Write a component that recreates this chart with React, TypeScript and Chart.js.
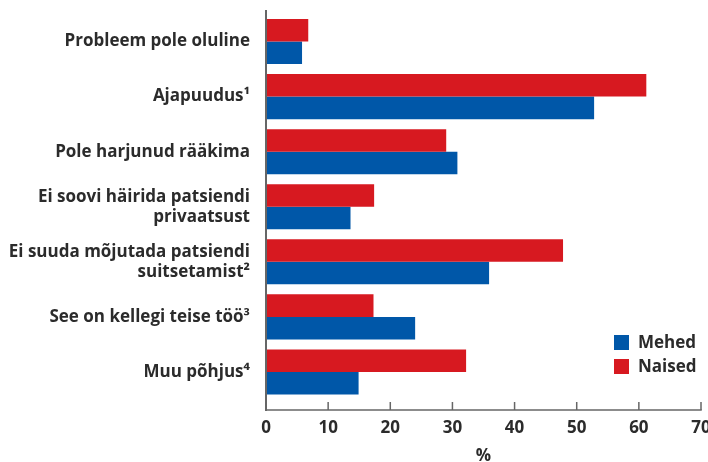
import React, { useEffect, useRef } from "react";
import { Chart, registerables } from "chart.js";

Chart.register(...registerables);

const categories: (string | string[])[] = [
  "Probleem pole oluline",
  "Ajapuudus¹",
  "Pole harjunud rääkima",
  ["Ei soovi häirida patsiendi", "privaatsust"],
  ["Ei suuda mõjutada patsiendi", "suitsetamist²"],
  "See on kellegi teise töö³",
  "Muu põhjus⁴",
];
const naised = [6.8, 61.2, 29.0, 17.4, 47.8, 17.3, 32.2];
const mehed = [5.8, 52.8, 30.8, 13.6, 35.9, 24.0, 14.9];
const xTicks = [0, 10, 20, 30, 40, 50, 60, 70];

const RED = "#D71920";
const BLUE = "#0057A8";
const TEXT = "#2b2b2b";
const AXIS = "#666666";
const FONT = "'Open Sans'";

const zeroPad = (s: any) => {
  s.paddingTop = 0;
  s.paddingBottom = 0;
  s.paddingLeft = 0;
  s.paddingRight = 0;
};

const decorPlugin = {
  id: "decor",
  afterDraw(chart: any) {
    const ctx = chart.ctx;
    const area = chart.chartArea;
    const xs = chart.scales.x;
    const axisY = area.bottom + 10.5;
    ctx.save();
    ctx.strokeStyle = AXIS;
    ctx.lineWidth = 2;
    ctx.beginPath();
    ctx.moveTo(area.left, area.top - 4);
    ctx.lineTo(area.left, axisY + 1);
    ctx.stroke();
    ctx.lineWidth = 1.5;
    ctx.beginPath();
    ctx.moveTo(area.left - 1, axisY);
    ctx.lineTo(xs.getPixelForValue(70) + 0.75, axisY);
    ctx.stroke();
    xTicks.forEach((v) => {
      const px = xs.getPixelForValue(v);
      ctx.beginPath();
      ctx.moveTo(px, axisY);
      ctx.lineTo(px, axisY - 8);
      ctx.stroke();
    });
    const ds = chart.data.datasets.slice().reverse();
    ctx.font = `bold 17px ${FONT}`;
    ctx.textBaseline = "middle";
    ctx.textAlign = "left";
    ds.forEach((d: any, i: number) => {
      const sx = area.right - 87;
      const sy = area.bottom - 64.5 + i * 24;
      ctx.fillStyle = d.backgroundColor;
      ctx.fillRect(sx, sy, 15, 15);
      ctx.fillStyle = TEXT;
      ctx.fillText(d.label, sx + 24, sy + 8);
    });
    ctx.restore();
  },
};

export default function App() {
  const ref = useRef<HTMLCanvasElement>(null);
  useEffect(() => {
    if (!ref.current) return;
    const chart = new Chart(ref.current, {
      type: "bar",
      data: {
        labels: categories as any,
        datasets: [
          { label: "Naised", data: naised, backgroundColor: RED, categoryPercentage: 0.818, barPercentage: 1 },
          { label: "Mehed", data: mehed, backgroundColor: BLUE, categoryPercentage: 0.818, barPercentage: 1 },
        ],
      },
      options: {
        indexAxis: "y",
        animation: false,
        responsive: true,
        maintainAspectRatio: false,
        layout: { padding: { top: 14, right: 7, left: 0, bottom: 0 } },
        plugins: { legend: { display: false }, tooltip: { enabled: false } },
        scales: {
          x: {
            min: 0,
            max: 70,
            afterFit: (s: any) => { s.height = 62.5; zeroPad(s); },
            afterBuildTicks: (s: any) => { s.ticks = xTicks.map((v) => ({ value: v })); },
            grid: { display: false },
            border: { display: false },
            ticks: { color: TEXT, font: { family: FONT, size: 17, weight: "bold" }, padding: 10, maxRotation: 0 },
            title: { display: true, text: "%", color: TEXT, font: { family: FONT, size: 17, weight: "bold", lineHeight: 1 }, padding: { top: 0, bottom: -3 } },
          },
          y: {
            afterFit: (s: any) => { s.width = 266; zeroPad(s); },
            grid: { display: false },
            border: { display: false },
            ticks: { color: TEXT, font: { family: FONT, size: 17, weight: "bold", lineHeight: 1.18 }, padding: 8 },
          },
        },
      },
      plugins: [decorPlugin],
    });
    return () => chart.destroy();
  }, []);
  return (
    <div style={{ position: "fixed", left: 0, top: 0, width: 708, height: 462, background: "#fff" }}>
      <canvas ref={ref} />
    </div>
  );
}
